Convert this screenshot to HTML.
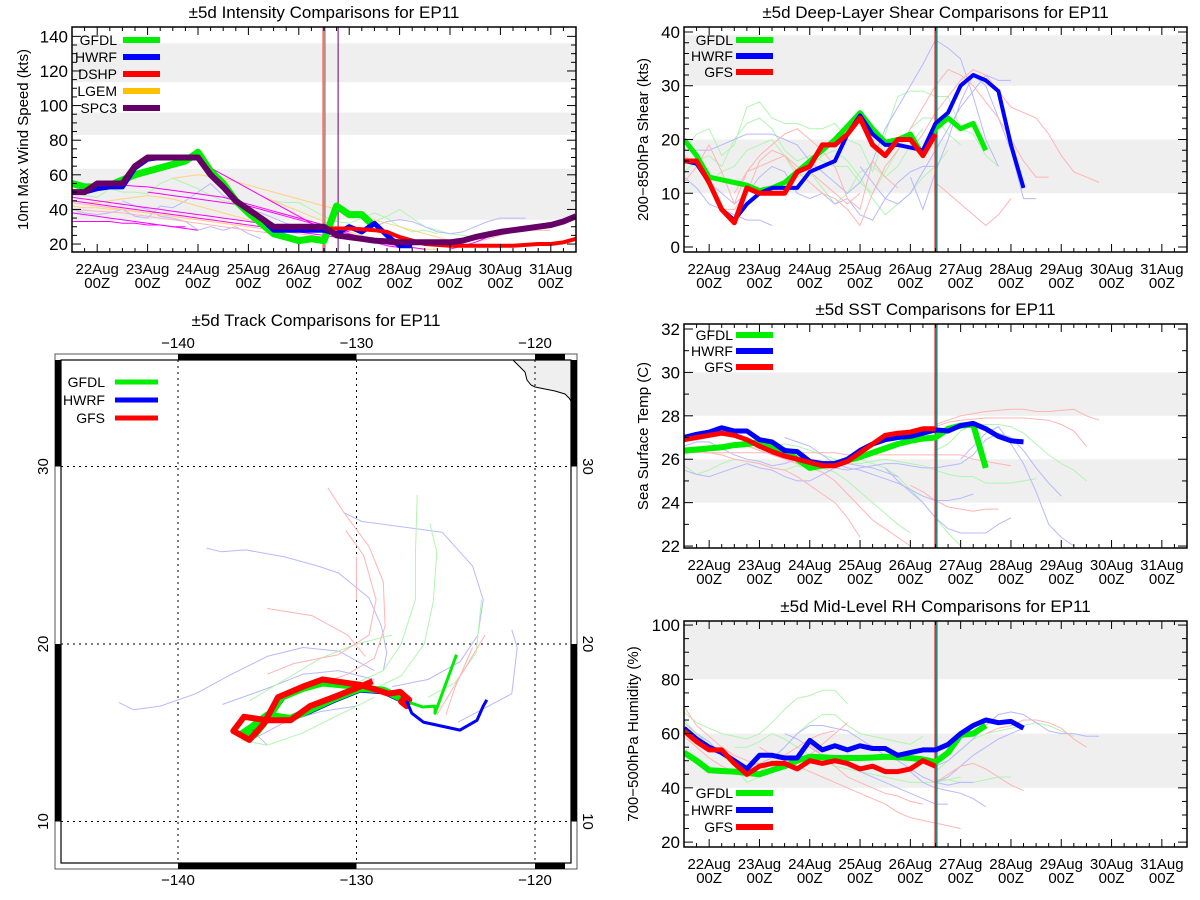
<!DOCTYPE html>
<html><head><meta charset="utf-8"><style>
html,body{margin:0;padding:0;background:#fff;}
svg{display:block;font-family:"Liberation Sans",sans-serif;}
</style></head><body>
<svg id="root" width="1200" height="900" viewBox="0 0 1200 900" xmlns="http://www.w3.org/2000/svg"></svg>
<script>
// ---------------- DATA ----------------
const dateLabels = ["22Aug","23Aug","24Aug","25Aug","26Aug","27Aug","28Aug","29Aug","30Aug","31Aug"];
// Intensity (kts), days from 22Aug00Z, 6h steps from start
const intGfdl = [-0.5,[55,53,53,54,57,60,62,64,66,68,73,62,55,45,38,32,26,24,22,23,22,42,37,37,30]];
const intHwrf = [-0.5,[50,50,52,53,53,64,69,70,70,70,70,60,53,45,40,35,28,28,28,28,28,26,30,27,32,25,19,19]];
const intDshp = [4.5,[29,29,29,28.5,28,27,24,22,20,19.5,19,19,19,19,19,19,19.5,20,20,21,23]];
const intSpc3 = [-0.5,[50,50,55,55,55,65,70,70,70,70,70,60,53,45,40,35,30,30,30,30,30,25,24,23,22,21.5,21,21,21,21,21,22,24,25.5,27,28,29,30,31,33,36]];
const intMagenta = [[-0.5,[47,46,45,44,43,42,41,40,39,38,37,36,35,34,33,32,31,30,29,28,27]],
  [-0.5,[45,44,43,42,41,40,39,38,37,36,35,34,33,32,31,30,29,28,27,26,25,24,23,22,21,20,19,18,17]],
  [-0.5,[38,37,36,35,34,33,32,31,30,29,28]],[-0.5,[33,33,33,33,32,32,31,31,30,30]],
  [0.5,[54,53.5,53,52,51,50,49,48,47,45,43,41,39,37,35,33,31,29,27]],
  [1,[50,49,48,47,46,45,44,43,42,40,38,36,34,32,30,28,26,24,22,20]],
  [2,[68,64,60,56,52,48,44,40,36,32,29,27,25,23,21,19,18]],[7,[17,19,21,24,26,28]]];
const intOrange = [[-0.5,[45,44,44,45,46,47,48,47,46,44,42,40,38,36,34,32,30,28]],
  [1.5,[58,59,60,59,58,56,54,52,50,48,46,44,42,40,38,36,34,32,30,28,26,24,22,20]],
  [-0.5,[42,41,41,40,40,39,38,37,36,35,34,33,32,31,30]],[2,[68,64,60,56,52,48,45,42,39,36,33,30,27,25,23,21,19,18,17,17]]];
const intGreen = [[-0.5,[50,48,47,52,50,50,49,55,58,55,52,48,45,44,42,40,38,37,35,33,30]],
  [3.5,[45,44,44,40,36,33,32,35,38,35,30,27,28,26]],[5.5,[33,36,40,35,30,28,26,25,24]]];
const intBlue = [[-0.5,[40,38,37,38,40,36,35,42,41,45,50,55,48,45,40,38,35,32,30,28]],
  [0.5,[45,42,40,36,35,33,28,30,28,30,26,23]],[5,[28,29,30,33,34,33,30,27,26,27,30,33,35,35,35]]];
const intRed = [[-0.5,[44,43,42,41,40,39,38,37,36,35,34,33,32,31,30,29,28,27,26,25,24]],
  [-0.5,[40,39.5,39,38.5,38,37,36,35,34,33,32,31,30,29,28,27,26,25,24,23]],[7.5,[21,23,25,27,28,28,28]]];
// Shear (kts)
const shGfdl = [-0.5,[20,17,13,12.5,12,11.5,10.5,11,12,14,16,18,20,22.5,25,22,19.5,20,21,17,22,24,22,23,18]];
const shHwrf = [-0.5,[16,15.5,12,7,5,8,10,11,11,11,14,15,16,21,24.5,21,19,19,18.5,18,23,25,30,32,31,29,19,11]];
const shGfs  = [-0.5,[16,16,12,7,4.5,11,10,10,10,14,15,19,19,21,24,19,17,20,20,17,21]];
const shThinGreen = [[-0.5,[18,21,22,17,19,26,27,24,23,23,22,22,23,20,19,14,21,28,29,29,28,28,22,21,17,15]],
  [-0.5,[14,16,17,15,20,23,24,22,18,16,17,16,15,15,12,10,14,18,22,24,24,21,19]],
  [0,[12,14,15,18,19,20,17,13,14,11,8,10,14,15,13,15,19,22]],[2,[15,17,18,16,13,9,6,8,10,13,15,18]]];
const shThinBlue = [[-0.5,[13,11,8,7,6,5,5,4]],[-0.5,[18,18,18,19,20,21,21,21,20,19,16,14,12,10,12,16,22,26,30,34,38.5,37,35,28,20,15]],
  [0,[12,10,8,10,13,15,14,10,9,10,8,9,6,5,9,12,14,15,15]],[3,[15,12,9,8,10,14,18,22,26,29,32,31,31]],
  [4,[13,7,14,20,27,32,30,24,18,9,9]]];
const shThinRed = [[-0.5,[12,15,19,14,8,14,17,19,21,22,20,18,15,9,7,16,13,11]],
  [-0.5,[17,15,12,7,7,10,16,18,17,15,14,12,10,8,10]],[0.5,[10,14,15,16,17,14,12,10,9,7,4,10,15,18,22,26,30,33,32,30,27,24,20,16,13,13]],
  [4,[18,21,25,28,31,33,32,29,26,25,24,21,17,14,13,12]],[4.5,[12,10,8,6,4,6,9]]];
// SST (C)
const sstGfdl = [-0.5,[26.4,26.45,26.5,26.55,26.65,26.7,26.8,26.6,26.4,26.0,25.6,25.7,25.8,25.95,26.1,26.3,26.5,26.7,26.85,26.95,27.0,27.4,27.55,27.6,25.6]];
const sstHwrf = [-0.5,[27.0,27.15,27.25,27.45,27.3,27.3,26.9,26.8,26.4,26.35,25.9,25.8,25.8,26.0,26.4,26.7,26.9,27.0,27.05,27.2,27.35,27.3,27.55,27.65,27.4,27.05,26.85,26.8]];
const sstGfs  = [-0.5,[26.9,27.0,27.1,27.2,27.1,26.9,26.6,26.35,26.15,26.0,25.85,25.7,25.7,25.9,26.3,26.7,27.1,27.2,27.25,27.4,27.4]];
const sstThinGreen = [[-0.5,[25.7,25.3,25.5,25.8,26.0,25.9,25.8,25.6,25.5,25.7,25.6,25.6,25.4,25.0,24.5,24.0,23.5,23.0,22.6]],
  [-0.5,[26.2,26.4,26.5,26.6,26.6,26.6,26.5,26.6,26.7,26.6,26.4,26.2,26.0,25.8,25.8,25.9,26.0,25.9,25.8,25.7,25.5,25.3,25.2,25.2,24.9,24.9,24.9,25.0,25.1]],
  [3,[26.0,25.8,25.6,25.2,24.6,24.0,23.3,22.6,22.0]],[4.5,[26.4,26.7,27.3,27.6,27.6,27.6,27.5,27.2,26.7,26.2,25.8,25.5,25.0]]];
const sstThinBlue = [[-0.5,[25.5,25.3,25.2,25.4,25.6,25.8,25.6,25.5,25.2,25.0,25.0,25.3,25.6,25.8,25.7,25.6,25.4,25.2]],
  [-0.5,[26.6,26.8,26.8,26.5,26.2,26.0,25.9,25.7,25.8,26.0,25.9,25.7,25.6,25.5,25.6,25.7,25.8,25.8,25.7,25.6,25.6,25.7,25.8,26.2,26.9,27.2,27.0,26.4,25.6,24.9,24.3]],
  [1.5,[27.0,26.8,26.6,26.2,25.8,25.6,25.5,25.3,25.1,24.9,24.6,24.3,24.1,24.1,24.2,24.4]],
  [3.5,[25.6,25.0,24.5,24.0,23.3,22.8,22.6,22.6,22.6,23.0,23.3]],[5,[26.0,26.6,27.2,27.5,26.7,25.8,24.5,23.0,22.4,22.0]]];
const sstThinRed = [[-0.5,[26.4,26.4,26.3,26.2,26.0,25.9,25.8,25.6,25.5,25.2,24.8,24.4,24.0,23.3,22.4]],
  [0.5,[26.8,26.6,26.4,26.2,26.0,25.8,25.6,25.4,25.0,24.4,23.8,23.2,22.8,22.4,22.0]],
  [-0.5,[26.3,26.3,26.3,26.3,26.3,26.3,26.3,26.3,26.3,26.3,26.3,26.3,26.3,26.2,26.2,26.2,26.2,26.2,26.2,26.2,26.2,26.2,26.2,26.0,25.9,25.8,25.7]],
  [4.5,[27.6,27.8,28.0,28.1,28.2,28.25,28.3,28.3,28.2,28.2,28.25,28.3,28.0,27.8]],
  [4.5,[27.5,27.7,27.8,27.85,27.9,27.9,27.9,27.9,27.85,27.8,27.6,27.3,26.6]],[4,[24.8,24.5,24.1,23.8,23.7,23.6,23.7,23.7]]];
// RH (%)
const rhGfdl = [-0.5,[53,50,46.5,46.2,46,45.5,45,46.5,48,50,51.5,51.3,51,51,51,51.2,51.5,51.3,51,50.5,49.5,53,59.5,60,63]];
const rhHwrf = [-0.5,[62,58,55,53,50,47,52,52,51,51,57.5,54,55.5,54,55.5,54.5,54.5,52,53,54,54,56,60,63,65,64,64.5,62]];
const rhGfs  = [-0.5,[61,57,54,54,49,45,48,49,49,47,50,49,50,49,47,48,46,46,47,50,48]];
const rhThinGreen = [[-0.5,[68,64,62,60,59,58,60,64,69,73,74,76,76,71]],[-0.5,[65,60,56,52,48,42,44,50,55,60,64,67,67,63,60,59,58,57,56,59]],
  [0.5,[55,55,57,60,58,55,52,50,48,47,46,45,44,43,42,42,42,43,44]],[4.5,[46,50,54,58,60,61,62,63,64,63,61,59]],[4.5,[43,43,42,42,43,44,44]]];
const rhThinBlue = [[-0.5,[64,60,57,52,50,48,49,51,55,60,63,63,62,61,58,55,52,50,47,44,42,41,42,42]],
  [1.5,[60,58,55,52,50,48,46,44,42,40,38,36,34,34]],[4.5,[48,50,54,58,63,67,68,67,64,61,60,60,59,59]],[4.5,[42,44,48,52,55,58,60,62]],[4,[46,42,40,39,38,36,33]]];
const rhThinRed = [[-0.5,[70,63,59,55,52,50,49,48,48,49,52,56,60,64]],[-0.5,[59,55,51,48,46,44,46,49,52,55,58,60,61]],
  [1,[55,52,50,48,46,44,42,40,38,36,34,31,29,28,27,26,25]],[2,[56,52,48,44,42,40,38,37,35,34]],[4.5,[42,45,48,49,47,44,41,39]],[5.5,[60,62,63,65,65,64,62,58,55]]];
// Track (lon, lat)
const trkGfsHist = [[-129.1,17.9],[-129.8,17.6],[-131.3,17.0],[-132.6,16.5],[-133.7,15.7],[-135.0,15.7],[-136.3,15.9],[-136.9,15.1],[-136.0,14.6],[-135.2,15.5],[-134.4,17.0],[-133.0,17.6],[-131.9,18.0],[-129.8,17.7],[-128.2,17.2],[-127.55,17.3],[-127.05,16.85],[-127.2,16.5],[-127.5,16.75],[-127.3,17.0]];
const trkGfdlHist = [[-127.0,16.7],[-128.5,17.4],[-129.8,17.5],[-131.3,16.9],[-132.6,16.3],[-133.7,15.8],[-135.0,16.0],[-135.9,15.3],[-136.5,14.9],[-135.7,14.9],[-134.9,15.9],[-134.2,17.0],[-133.0,17.5],[-131.9,17.8],[-129.8,17.6]];
const trkHwrfHist = [[-127.0,16.6],[-128.5,17.3],[-129.8,17.4],[-131.3,16.8],[-132.6,16.2],[-133.7,15.8],[-135.0,15.9],[-135.9,15.2],[-136.4,15.0],[-135.6,15.0],[-134.8,16.0],[-134.1,17.0],[-133.0,17.5],[-131.9,17.8],[-129.8,17.7]];
const trkGfdlFcst = [[-127.0,16.7],[-126.3,16.45],[-125.6,16.5],[-125.6,16.1],[-124.4,19.4]];
const trkHwrfFcst = [[-127.2,16.8],[-126.9,16.1],[-126.26,15.6],[-124.2,15.15],[-123.25,15.7],[-122.9,16.5],[-122.7,16.85]];
const trkThinBlue = [[[-129,18.5],[-131,19.6],[-133,19.8],[-135,19.3],[-137,18.3],[-139,17.2],[-141,16.5],[-142.5,16.3],[-143.3,16.7]],
  [[-129,18.0],[-131,18.5],[-133,18.3],[-135,17.5],[-137.5,16.6]],
  [[-138.4,25.4],[-137.6,25.2],[-136.2,25.3],[-134,24.9],[-132.2,24.4],[-131,24],[-129.3,22.6],[-128.6,21],[-128.3,19.5],[-128.5,18.5]],
  [[-130.7,27.4],[-129.7,26.9],[-125.2,26.3],[-123.5,24.4],[-122.9,22.5],[-123.2,20.5],[-124.2,19],[-126,18],[-128,17.6]],
  [[-121.3,20.8],[-121,19.8],[-121.3,17.2],[-122.8,16.4],[-124.3,15.6]],[[-130,16.5],[-132,16.2],[-134,15.6],[-135.5,14.8],[-135,14.3]]];
const trkThinGreen = [[[-126.6,28.4],[-126.7,25],[-126.7,22.5],[-127.5,20],[-128.5,18.5],[-130,17.8]],
  [[-125.9,26.8],[-125.5,25.2],[-125.7,22.4],[-126.2,20],[-127.5,18.2],[-129,17.5]],
  [[-129,17.0],[-131,16.0],[-133,15.0],[-135,14.3],[-136.5,14.6]],[[-123,22.5],[-123.3,19.5],[-124.5,17.8],[-126,17.0]],
  [[-128,20.5],[-130,20.0],[-132,19.2],[-134,18.0],[-136,16.8]]];
const trkThinRed = [[[-131.6,28.8],[-130.7,27.4],[-129.3,25.5],[-128.5,23.5],[-128.4,21],[-129,19.2],[-130.5,18.3],[-132.5,17.6]],
  [[-130.6,26.4],[-129.6,25],[-128.9,22.5],[-129.3,20.5],[-131,19.4],[-133.5,18.9],[-135,18.3]],
  [[-130.0,24.9],[-130.0,22.5]],[[-122.8,20.5],[-124,18.5],[-125.5,16]],[[-123.5,19.8],[-124.5,17.5],[-125,16]],
  [[-135,22.0],[-132.5,21.6],[-130.5,20.5],[-129.5,19.3]]];

// ---------------- DRAW ----------------
const NS="http://www.w3.org/2000/svg";
const root=document.getElementById('root');
function el(tag,attrs,parent,text){const e=document.createElementNS(NS,tag);for(const k in attrs)e.setAttribute(k,attrs[k]);if(text!==undefined)e.textContent=text;(parent||root).appendChild(e);return e;}
const defs=el('defs',{});
let clipN=0;

function makePanel(p){
  const g=el('g',{});
  
  
  const X=d=>p.x0+(d+0.5)*(p.x1-p.x0)/10;
  const Y=v=>p.y1-(v-p.ymin)*(p.y1-p.y0)/(p.ymax-p.ymin);
  const cid='clip'+(clipN++);
  const cp=el('clipPath',{id:cid},defs);
  el('rect',{x:p.x0,y:p.y0,width:p.x1-p.x0,height:p.y1-p.y0},cp);
  p.bands.forEach(b=>{const r=el('rect',{x:p.x0,y:Y(Math.min(b[1],p.ymax)),width:p.x1-p.x0,height:Y(b[0])-Y(Math.min(b[1],p.ymax)),fill:'#efefef'},g);
    
    });
  const t=el('text',{x:(p.x0+p.x1)/2,y:p.y0-9,'text-anchor':'middle','font-size':17},g,p.title);
  
  
  const yt=el('text',{x:p.ytx,y:(p.y0+p.y1)/2,'text-anchor':'middle','font-size':15,transform:`rotate(-90 ${p.ytx} ${(p.y0+p.y1)/2})`},g,p.ytitle);
  
  
  const cg=el('g',{'clip-path':`url(#${cid})`},g);
  
  
  const pathOf=(s,step)=>s[1].map((v,i)=>(i?'L':'M')+X(s[0]+i*step).toFixed(1)+' '+Y(v).toFixed(1)).join(' ');
  const thin=(arr,col,w,step,nm)=>arr.forEach(s=>{const l=el('path',{d:pathOf(s,step),fill:'none',stroke:col,'stroke-width':w},cg);
    
    });
  p.thin.forEach(t=>thin(t.data,t.color,t.w||1,t.step,t.name));
  p.vlines.forEach(v=>{const l=el('line',{x1:X(v[0]),x2:X(v[0]),y1:p.y0,y2:p.y1,stroke:v[1],'stroke-width':v[2]},cg);
    
    });
  p.thick.forEach(t=>{const l=el('path',{d:pathOf(t.data,0.25),fill:'none',stroke:t.color,'stroke-width':t.w,'stroke-linejoin':'round'},cg);
    
    });
  const f=el('rect',{x:p.x0,y:p.y0,width:p.x1-p.x0,height:p.y1-p.y0,fill:'none',stroke:'#000','stroke-width':1.5},g);
  
  
  for(let v=p.ymin0;v<=p.ymax0+1e-6;v+=p.ystep/p.yminor){
    const major=Math.abs((v-p.ymin0)/p.ystep-Math.round((v-p.ymin0)/p.ystep))<1e-6;const L=major?9:5;const y=Y(v);
    el('line',{x1:p.x0,x2:p.x0+L,y1:y,y2:y,stroke:'#000','stroke-width':1},g);
    el('line',{x1:p.x1,x2:p.x1-L,y1:y,y2:y,stroke:'#000','stroke-width':1},g);
    if(major){const lb=el('text',{x:p.x0-4,y:y+6,'text-anchor':'end','font-size':17},g,String(Math.round(v)));
      
      }
  }
  for(let d=-0.25;d<9.5;d+=0.25){const major=Math.abs(d-Math.round(d))<1e-6;const L=major?8:4;const x=X(d);
    el('line',{x1:x,x2:x,y1:p.y1,y2:p.y1-L,stroke:'#000','stroke-width':1},g);
    el('line',{x1:x,x2:x,y1:p.y0,y2:p.y0+L,stroke:'#000','stroke-width':1},g);}
  dateLabels.forEach((s,i)=>{const x=X(i);
    const a=el('text',{x:x,y:p.y1+22,'text-anchor':'middle','font-size':15},g,s);
    
    
    const b=el('text',{x:x,y:p.y1+36,'text-anchor':'middle','font-size':15},g,'00Z');
    
    });
  p.legend.items.forEach((it,i)=>{const y=p.legend.y+i*p.legend.dy;
    const lt=el('text',{x:p.legend.tx,y:y+5,'text-anchor':'end','font-size':14},g,it[0]);
    
    
    const ll=el('line',{x1:p.legend.lx,x2:p.legend.lx+37,y1:y,y2:y,stroke:it[1],'stroke-width':6},g);
    
    });
}

const LG='#b0f5b0',LB='#b8b8ff',LR='#ffb4b4';
makePanel({name:'intensity-panel',title:'±5d Intensity Comparisons for EP11',ytitle:'10m Max Wind Speed (kts)',ytx:28,
  x0:72,x1:576,y0:27,y1:252,ymin:15.4,ymax:145.4,ymin0:20,ymax0:140,ystep:20,yminor:4,
  bands:[[34,63.5],[83,96],[113.5,136]],
  thin:[{data:intGreen,color:LG,step:0.25,name:'gfdl-past-run'},{data:intBlue,color:LB,step:0.25,name:'hwrf-past-run'},
        {data:intRed,color:LR,step:0.25,name:'dshp-past-run'},{data:intOrange,color:'#ffd27a',step:0.25,name:'lgem-past-run'},
        {data:intMagenta,color:'#ff00ff',step:0.25,name:'spc3-past-run'}],
  vlines:[[4.5,'#ffc000',2],[4.52,'#6060ff',1],[4.48,'#ff4040',1],[4.78,'#700070',1]],
  thick:[{data:intGfdl,color:'#00ee00',w:7,name:'gfdl-intensity'},{data:intHwrf,color:'#0000ff',w:5,name:'hwrf-intensity'},
         {data:intDshp,color:'#ff0000',w:4,name:'dshp-intensity'},{data:intSpc3,color:'#660066',w:6,name:'spc3-intensity'}],
  legend:{tx:117,lx:123,y:40,dy:17,items:[['GFDL','#00ee00'],['HWRF','#0000ff'],['DSHP','#ff0000'],['LGEM','#ffc000'],['SPC3','#660066']]}});
makePanel({name:'shear-panel',title:'±5d Deep-Layer Shear Comparisons for EP11',ytitle:'200−850hPa Shear (kts)',ytx:648,
  x0:684,x1:1187,y0:27,y1:252,ymin:-0.93,ymax:40.93,ymin0:0,ymax0:40,ystep:10,yminor:5,
  bands:[[10,20],[30,39.4]],
  thin:[{data:shThinGreen,color:LG,step:0.25,name:'gfdl-past-run'},{data:shThinBlue,color:LB,step:0.25,name:'hwrf-past-run'},{data:shThinRed,color:LR,step:0.25,name:'gfs-past-run'}],
  vlines:[[4.49,'#ff0000',1],[4.51,'#00cc00',1],[4.53,'#4040ff',1]],
  thick:[{data:shGfdl,color:'#00ee00',w:5,name:'gfdl-shear'},{data:shHwrf,color:'#0000ff',w:4,name:'hwrf-shear'},{data:shGfs,color:'#ff0000',w:5,name:'gfs-shear'}],
  legend:{tx:733,lx:736,y:40,dy:16,items:[['GFDL','#00ee00'],['HWRF','#0000ff'],['GFS','#ff0000']]}});
makePanel({name:'sst-panel',title:'±5d SST Comparisons for EP11',ytitle:'Sea Surface Temp (C)',ytx:648,
  x0:684,x1:1187,y0:324,y1:548,ymin:21.91,ymax:32.23,ymin0:22,ymax0:32,ystep:2,yminor:2,
  bands:[[24,26],[28,30]],
  thin:[{data:sstThinGreen,color:LG,step:0.25,name:'gfdl-past-run'},{data:sstThinBlue,color:LB,step:0.25,name:'hwrf-past-run'},{data:sstThinRed,color:LR,step:0.25,name:'gfs-past-run'}],
  vlines:[[4.49,'#ff0000',1],[4.51,'#00cc00',1],[4.53,'#4040ff',1]],
  thick:[{data:sstGfdl,color:'#00ee00',w:6,name:'gfdl-sst'},{data:sstHwrf,color:'#0000ff',w:5,name:'hwrf-sst'},{data:sstGfs,color:'#ff0000',w:5,name:'gfs-sst'}],
  legend:{tx:733,lx:736,y:335,dy:16,items:[['GFDL','#00ee00'],['HWRF','#0000ff'],['GFS','#ff0000']]}});
makePanel({name:'rh-panel',title:'±5d Mid-Level RH Comparisons for EP11',ytitle:'700−500hPa Humidity (%)',ytx:638,
  x0:684,x1:1187,y0:621,y1:847,ymin:18.2,ymax:101.5,ymin0:20,ymax0:100,ystep:20,yminor:4,
  bands:[[40,60],[80,101.5]],
  thin:[{data:rhThinGreen,color:LG,step:0.25,name:'gfdl-past-run'},{data:rhThinBlue,color:LB,step:0.25,name:'hwrf-past-run'},{data:rhThinRed,color:LR,step:0.25,name:'gfs-past-run'}],
  vlines:[[4.49,'#ff0000',1],[4.51,'#00cc00',1],[4.53,'#4040ff',1]],
  thick:[{data:rhGfdl,color:'#00ee00',w:6,name:'gfdl-rh'},{data:rhHwrf,color:'#0000ff',w:5,name:'hwrf-rh'},{data:rhGfs,color:'#ff0000',w:5,name:'gfs-rh'}],
  legend:{tx:733,lx:736,y:793,dy:17,items:[['GFDL','#00ee00'],['HWRF','#0000ff'],['GFS','#ff0000']]}});

// ---------------- TRACK MAP ----------------
(function(){
  const g=el('g',{});
  
  
  const ix0=61,ix1=571,iy0=360,iy1=863;
  const LX=lon=>178+(lon+140)*17.85;
  const LY=lat=>644-(lat-20)*17.75;
  const t=el('text',{x:316,y:326,'text-anchor':'middle','font-size':17},g,'±5d Track Comparisons for EP11');
  
  
  const land=el('path',{d:'M513 360 L520 367 L525 372 L527 380 L531 385 L535 387 L545 389 L555 391 L565 394 L569 398 L571 401 L571 360 Z',fill:'#efefef',stroke:'#000','stroke-width':1},g);
  
  
  [-140,-130,-120].forEach(lon=>{const l=el('line',{x1:LX(lon),x2:LX(lon),y1:iy0,y2:iy1,stroke:'#000','stroke-width':1,'stroke-dasharray':'2 4'},g);
    
    });
  [30,20,10].forEach(lat=>{const l=el('line',{x1:ix0,x2:ix1,y1:LY(lat),y2:LY(lat),stroke:'#000','stroke-width':1,'stroke-dasharray':'2 4'},g);
    
    });
  const line=(pts,col,w,nm)=>{const l=el('path',{d:pts.map((p,i)=>(i?'L':'M')+LX(p[0]).toFixed(1)+' '+LY(p[1]).toFixed(1)).join(' '),fill:'none',stroke:col,'stroke-width':w,'stroke-linejoin':'round'},g);
    
    };
  trkThinBlue.forEach(p=>line(p,LB,1,'hwrf-past-track'));
  trkThinGreen.forEach(p=>line(p,LG,1,'gfdl-past-track'));
  trkThinRed.forEach(p=>line(p,LR,1,'gfs-past-track'));
  line(trkHwrfHist,'#0000ff',5,'hwrf-track');
  line(trkGfdlHist,'#00ee00',7,'gfdl-track');
  line(trkGfsHist,'#ff0000',6,'gfs-track');
  line(trkGfdlFcst,'#00ee00',3,'gfdl-forecast-track');
  line(trkHwrfFcst,'#0000ff',3,'hwrf-forecast-track');
  el('rect',{x:55,y:354,width:522,height:515,fill:'none',stroke:'#555','stroke-width':1},g);
  el('rect',{x:ix0,y:iy0,width:ix1-ix0,height:iy1-iy0,fill:'none',stroke:'#000','stroke-width':1.2},g);
  [[LX(-140),LX(-130)],[LX(-120),ix1-6]].forEach(b=>{el('rect',{x:b[0],y:354,width:b[1]-b[0],height:6,fill:'#000'},g);
    el('rect',{x:b[0],y:iy1,width:b[1]-b[0],height:6,fill:'#000'},g);});
  [[iy0,LY(30)],[LY(20),LY(10)]].forEach(b=>{el('rect',{x:55,y:b[0],width:6,height:b[1]-b[0],fill:'#000'},g);
    el('rect',{x:ix1,y:b[0],width:6,height:b[1]-b[0],fill:'#000'},g);});
  [-140,-130,-120].forEach(lon=>{
    const a=el('text',{x:LX(lon),y:348,'text-anchor':'middle','font-size':15},g,'−'+Math.abs(lon));
    
    
    const b=el('text',{x:LX(lon),y:885,'text-anchor':'middle','font-size':15},g,'−'+Math.abs(lon));
    
    });
  [30,20,10].forEach(lat=>{const y=LY(lat);
    const a=el('text',{x:48,y:y,'text-anchor':'middle','font-size':15,transform:`rotate(-90 48 ${y})`},g,String(lat));
    
    
    const b=el('text',{x:583,y:y,'text-anchor':'middle','font-size':15,transform:`rotate(90 583 ${y})`},g,String(lat));
    
    });
  [['GFDL','#00ee00'],['HWRF','#0000ff'],['GFS','#ff0000']].forEach((it,i)=>{const y=382+i*18;
    const lt=el('text',{x:105,y:y+5,'text-anchor':'end','font-size':14},g,it[0]);
    
    
    const ll=el('line',{x1:115,x2:158,y1:y,y2:y,stroke:it[1],'stroke-width':5},g);
    
    });
})();
</script>
</body></html>
